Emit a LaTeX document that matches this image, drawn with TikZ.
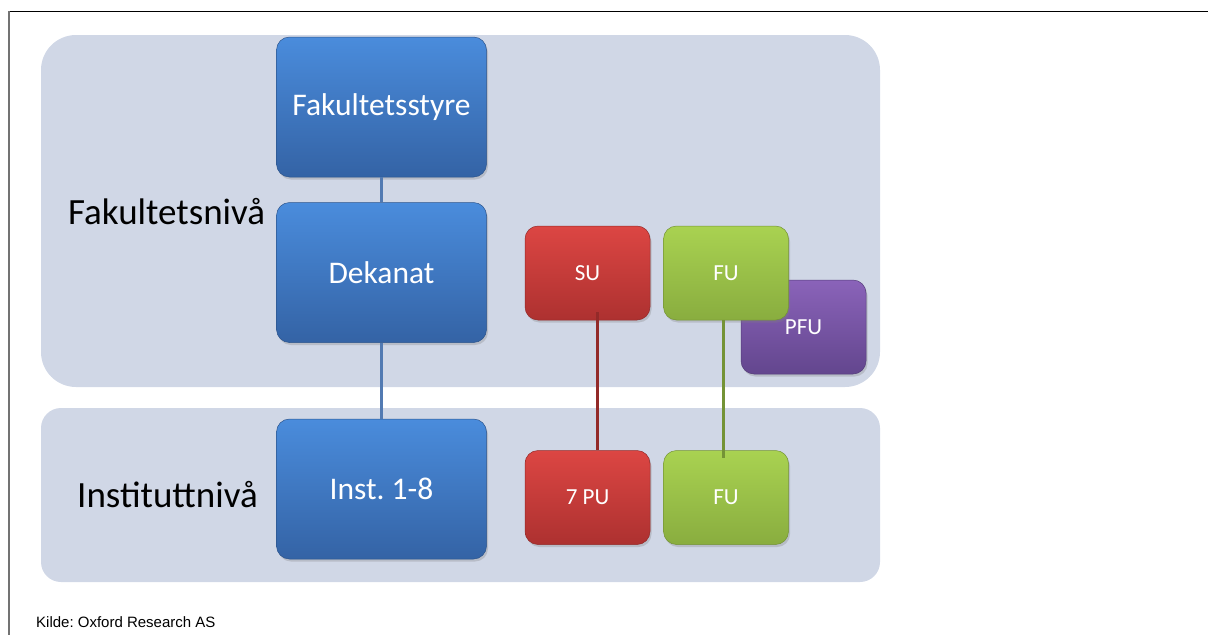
\documentclass[tikz,border=0pt]{standalone}
\usepackage{fontspec}
\setmainfont{Carlito}
\newfontfamily\kildefont{Liberation Sans}
\usepackage{tikz}
\usetikzlibrary{positioning,shadows}
\definecolor{PanelGrey}{HTML}{D0D7E6}
\definecolor{BlueTop}{HTML}{4A8CDC}
\definecolor{BlueBot}{HTML}{3463A5}
\definecolor{RedTop}{HTML}{DC4643}
\definecolor{RedBot}{HTML}{AD3130}
\definecolor{GreenTop}{HTML}{A9D251}
\definecolor{GreenBot}{HTML}{89AD3F}
\definecolor{PurpleTop}{HTML}{8A63B9}
\definecolor{PurpleBot}{HTML}{63468E}
\frenchspacing

\begin{document}
\begin{tikzpicture}[
    x=1pt, y=-1pt,
    box/.style={
      rectangle, rounded corners=13pt,
      top color=#1Top, bottom color=#1Bot,
      draw=#1Bot!85!black, line width=0.5pt,
      drop shadow={shadow xshift=1.5pt, shadow yshift=-2.5pt, opacity=0.3},
      text=white, inner sep=0pt
    },
    bigbox/.style={box=Blue, minimum width=210pt, minimum height=140pt,
      font=\fontsize{31.5}{38}\selectfont},
    smallbox/.style={box=#1, minimum width=125pt, minimum height=94pt,
      font=\fontsize{23}{28}\selectfont},
    panel/.style={fill=PanelGrey},
    lvl/.style={anchor=base west, inner sep=0pt, font=\fontsize{37}{44}\selectfont},
    blueline/.style={line width=3pt, color=BlueBot!85!white},
    redline/.style={line width=3pt, color=RedBot!85!black},
    greenline/.style={line width=3pt, color=GreenBot!85!black}
  ]
    \useasboundingbox (0,0) rectangle (1208,635);

    % frame
    \draw[black, line width=1pt] (1208,11) -- (9,11);
    \draw[black!55, line width=1.6pt] (9,11) -- (9,635);

    % level panels
    \fill[panel, rounded corners=35pt] (41,35) rectangle (880,387);
    \fill[panel, rounded corners=20pt] (41,408) rectangle (880,582);

    \node[lvl] (fniva) at (68,224) {Fakultetsnivå};
    \node[lvl] (iniva) at (77,507) {Instituttnivå};

    % blue column
    \node[bigbox] (fstyre) at (381.5,107) {Fakultetsstyre};
    \node[bigbox, below=25pt of fstyre] (dekanat) {Dekanat};
    \node[bigbox, below=76pt of dekanat] (inst) {Inst. 1-8};

    % committees
    \node[smallbox=Purple] (pfu) at (803.5,327) {PFU};
    \node[smallbox=Red] (su) at (587.5,273) {SU};
    \node[smallbox=Green, right=13pt of su] (fu) {FU};
    \node[smallbox=Red, below=130pt of su] (pu) {7 PU};
    \node[smallbox=Green, below=130pt of fu] (fuinst) {FU};

    \draw[blueline] (fstyre) -- (dekanat);
    \draw[blueline] (dekanat) -- (inst);
    \draw[redline] ([xshift=10pt,yshift=8pt]su.south) -- ([xshift=10pt]pu.north);
    \draw[greenline] ([xshift=-3pt]fu.south) -- ([xshift=-3pt,yshift=-8pt]fuinst.north);

    \node[anchor=base west, inner sep=0pt, font=\kildefont\fontsize{15}{18}\selectfont]
      (kilde) at (36,627) {Kilde: Oxford Research AS};
  \end{tikzpicture}
\end{document}
